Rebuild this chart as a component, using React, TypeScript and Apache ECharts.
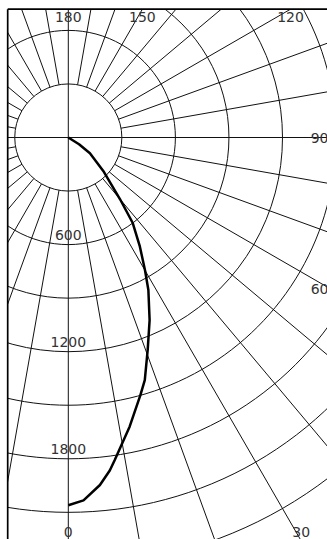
import React, { useEffect, useRef } from 'react';
import * as echarts from 'echarts';

// ---- data (radius = depth value, angle = degrees) ----
const depthValues = [0, 71, 150, 271, 450, 600, 730, 860, 965, 1120, 1270, 1425, 1500, 1655, 1825, 1880, 1955, 2035, 2060];
const angleValues = [58, 58, 53.9, 46.3, 40, 37, 33.3, 30, 27.7, 24, 20.5, 17.5, 15.6, 12, 8.2, 7.1, 5.2, 2.4, 0];

const angleTickLabels = [0, 30, 60, 90, 120, 150, 180];
const radialTickLabels = [600, 1200, 1800];

// ---- layout ----
const W = 327;
const H = 539;
const CX = 68.3;
const CY = 137.5;
const STEP = 300;
const PX_PER_STEP = 53.55;
const R_MIN = 300;
const R_MAX = 3000;
const FRAME = { left: 7.7, top: 9.2, right: 331, bottom: 541 };
const FONT = 'DejaVu Sans';
const TEXT_COLOR = '#333';
const GRID_COLOR = '#111';

function angleLabelGraphic(a: number) {
  const rad = (a * Math.PI) / 180;
  const s = Math.sin(rad);
  const c = Math.cos(rad);
  let best = Infinity;
  let edge = '';
  if (s > 1e-9) { const t = (FRAME.right - CX) / s; if (t < best) { best = t; edge = 'right'; } }
  if (s < -1e-9) { const t = (FRAME.left - CX) / s; if (t < best) { best = t; edge = 'left'; } }
  if (c > 1e-9) { const t = (FRAME.bottom - CY) / c; if (t < best) { best = t; edge = 'bottom'; } }
  if (c < -1e-9) { const t = (FRAME.top - CY) / c; if (t < best) { best = t; edge = 'top'; } }
  const ix = CX + best * s;
  const iy = CY + best * c;
  let x = ix, y = iy, align = 'center', va = 'middle';
  if (edge === 'top') { y = FRAME.top + 8; }
  else if (edge === 'bottom') { y = FRAME.bottom - 9; }
  else if (edge === 'right') { x = FRAME.right - 2.5; align = 'right'; }
  else { x = FRAME.left + 3; align = 'left'; }
  return {
    type: 'text',
    z: 102,
    x,
    y,
    style: { text: String(a), fill: TEXT_COLOR, font: `14px "${FONT}"`, align, verticalAlign: va },
  };
}

const hiddenAxis = {
  axisLine: { show: false },
  axisTick: { show: false },
  axisLabel: { show: false },
  splitLine: { show: false },
};

export default function App() {
  const ref = useRef<HTMLDivElement>(null);
  useEffect(() => {
    if (!ref.current) return;
    const chart = echarts.init(ref.current, null, { renderer: 'svg' });
    const outerR = (PX_PER_STEP * R_MAX) / STEP;
    const innerR = (PX_PER_STEP * R_MIN) / STEP;
    const option: any = {
      animation: false,
      polar: [
        { center: [CX, CY], radius: [innerR, outerR] },
        { center: [CX, CY], radius: [0, innerR] },
        { center: [CX, CY], radius: [0, outerR] },
      ],
      angleAxis: [
        {
          polarIndex: 0,
          type: 'value',
          min: 0,
          max: 360,
          interval: 10,
          startAngle: 270,
          clockwise: false,
          axisLine: { show: false },
          axisTick: { show: false },
          axisLabel: { show: false },
          splitLine: { show: true, lineStyle: { color: GRID_COLOR, width: 1 } },
        },
        {
          polarIndex: 1,
          type: 'value',
          min: 0,
          max: 360,
          interval: 90,
          startAngle: 270,
          clockwise: false,
          axisLine: { show: false },
          axisTick: { show: false },
          axisLabel: { show: false },
          splitLine: { show: true, lineStyle: { color: GRID_COLOR, width: 1 } },
        },
        {
          polarIndex: 2,
          type: 'value',
          min: 0,
          max: 360,
          interval: 90,
          startAngle: 270,
          clockwise: false,
          ...hiddenAxis,
        },
      ],
      radiusAxis: [
        {
          polarIndex: 0,
          type: 'value',
          min: R_MIN,
          max: R_MAX,
          interval: STEP,
          axisLine: { show: false },
          axisTick: { show: false },
          axisLabel: {
            show: true,
            margin: 0,
            align: 'center',
            verticalAlign: 'bottom',
            color: TEXT_COLOR,
            fontSize: 14,
            fontFamily: FONT,
            padding: [0, 0, 3, 0],
            formatter: (v: number) => (radialTickLabels.includes(v) ? String(v) : ''),
          },
          splitLine: { show: true, lineStyle: { color: GRID_COLOR, width: 1 } },
        },
        {
          polarIndex: 1,
          type: 'value',
          min: 0,
          max: 1,
          ...hiddenAxis,
        },
        {
          polarIndex: 2,
          type: 'value',
          min: 0,
          max: R_MAX,
          interval: STEP,
          ...hiddenAxis,
        },
      ],
      series: [
        {
          type: 'line',
          coordinateSystem: 'polar',
          polarIndex: 2,
          clip: false,
          symbol: 'none',
          lineStyle: { color: '#000', width: 2.5 },
          data: depthValues.map((d, i) => [d, angleValues[i]]),
        },
      ],
      graphic: [
        { type: 'rect', z: 100, shape: { x: 0, y: 0, width: W, height: FRAME.top }, style: { fill: '#fff' } },
        { type: 'rect', z: 100, shape: { x: 0, y: 0, width: FRAME.left, height: H }, style: { fill: '#fff' } },
        { type: 'line', z: 101, shape: { x1: FRAME.left, y1: FRAME.top, x2: FRAME.left, y2: H + 10 }, style: { stroke: '#000', lineWidth: 1.7 } },
        { type: 'line', z: 101, shape: { x1: FRAME.left, y1: FRAME.top, x2: W + 10, y2: FRAME.top }, style: { stroke: '#000', lineWidth: 1.7 } },
        ...angleTickLabels.map(angleLabelGraphic),
      ],
    };
    chart.setOption(option);
    return () => chart.dispose();
  }, []);
  return <div ref={ref} style={{ position: 'fixed', left: 0, top: 0, width: W, height: H, background: '#fff' }} />;
}
